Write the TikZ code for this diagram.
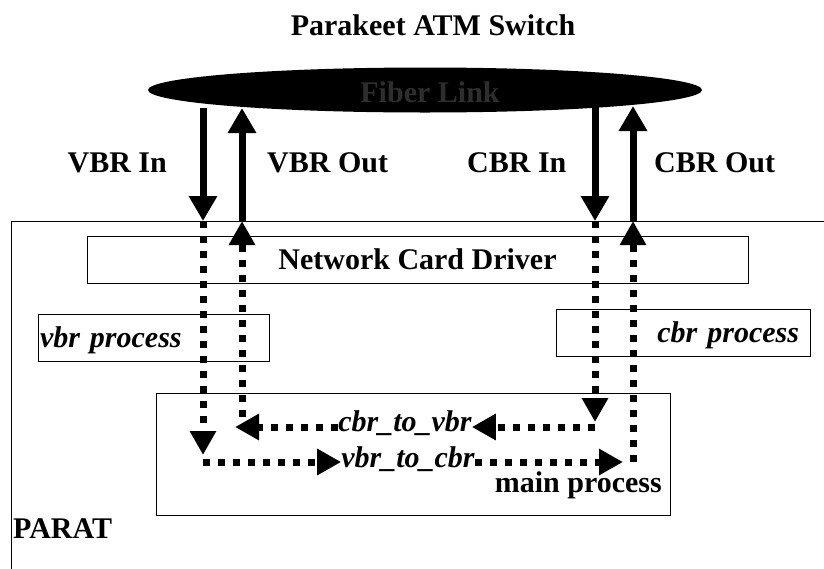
\documentclass[tikz,border=0pt]{standalone}
\usepackage{fontspec}
\setmainfont{Liberation Serif}
\usetikzlibrary{arrows.meta,shapes.geometric}
\newcommand{\boldlbl}{\fontsize{30}{36}\selectfont\bfseries}

\begin{document}
\begin{tikzpicture}[line cap=butt,line join=miter,x=1pt,y=-1pt,
  >={Triangle[width=27pt,length=25pt]},
  box/.style={draw=black,line width=1pt,inner sep=0pt},
  txt/.style={font=\boldlbl,inner sep=0pt},
  itx/.style={font=\boldlbl\itshape,inner sep=0pt},
  solidarrow/.style={line width=7pt},
  dotarrow/.style={line width=7pt,dash pattern=on 7pt off 8pt,>={Triangle[width=25pt,length=24pt]}}]
			\useasboundingbox (0,0) rectangle (824,568);
			\node[txt,anchor=base] (title) at (433,35) {Parakeet ATM Switch};
			\node[ellipse,fill=black,minimum width=554pt,minimum height=45pt,inner sep=0pt] (link) at (425,90) {};
			\node[txt,text=black!82] (linktxt) at (430,92) {Fiber Link};
			\node[txt,anchor=base east] (vinlbl) at (167,172) {VBR In};
			\node[txt,anchor=base west] (voutlbl) at (267,172) {VBR Out};
			\node[txt,anchor=base west] (cinlbl) at (467,172) {CBR In};
			\node[txt,anchor=base west] (coutlbl) at (654,172) {CBR Out};
			\draw [line width=1pt] (11,580) |- (830,221);
			\node[txt,anchor=base west] (parat) at (13,538) {PARAT};
			\node[box,minimum width=661pt,minimum height=47pt,font=\boldlbl] (driver) at (417.5,259.5) {Network Card Driver};
			\node[box,minimum height=47pt,text width=227pt,text height=20pt,text depth=0pt,align=left,inner xsep=2pt,font=\boldlbl\itshape] (vbrproc) at (153.5,337.5) {vbr process};
			\node[box,minimum height=47pt,text width=232pt,text height=20pt,text depth=0pt,align=right,inner xsep=11pt,font=\boldlbl\itshape] (cbrproc) at (683,332.5) {cbr process};
			\node[box,minimum width=514pt,minimum height=122pt] (mainproc) at (413,454) {};
			\node[txt,anchor=base east] (mainlbl) at (662,492) {main process};
			\node[itx,anchor=base] (c2v) at (405,431) {cbr\_to\_vbr};
			\node[itx,anchor=base] (v2c) at (408,467) {vbr\_to\_cbr};
			\coordinate (vinA) at (203,108);
			\coordinate (vinB) at (203,221);
			\coordinate (vinC) at (203,455);
			\coordinate (vinD) at (203,462);
			\coordinate (voutA) at (242,221);
			\coordinate (voutB) at (242,108);
			\coordinate (voutC) at (235,427);
			\coordinate (voutD) at (242,417);
			\coordinate (cinA) at (595,106);
			\coordinate (cinB) at (595,221);
			\coordinate (cinC) at (595,422);
			\coordinate (cinD) at (595,427);
			\coordinate (coutA) at (633,221);
			\coordinate (coutB) at (633,106);
			\coordinate (coutC) at (623,462);
			\coordinate (coutD) at (633,462);
			\draw [solidarrow,->] (vinA) -- (vinB);
			\draw [solidarrow,->] (voutA) -- (voutB);
			\draw [solidarrow,->] (cinA) -- (cinB);
			\draw [solidarrow,->] (coutA) -- (coutB);
			\draw [dotarrow,->] (vinB) -- (vinC);
			\draw [dotarrow,->] (vinD) -- (v2c.west |- vinD);
			\draw [dotarrow,->] (v2c.east |- vinD) -- (coutC);
			\draw [dotarrow,->] (coutD) -- (coutA);
			\draw [dotarrow,->] (cinB) -- (cinC);
			\draw [dotarrow,->] (cinD) -- (c2v.east |- cinD);
			\draw [dotarrow,->] (c2v.west |- cinD) -- (voutC);
			\draw [dotarrow,->] (voutD) -- (voutA);
\end{tikzpicture}
\end{document}
